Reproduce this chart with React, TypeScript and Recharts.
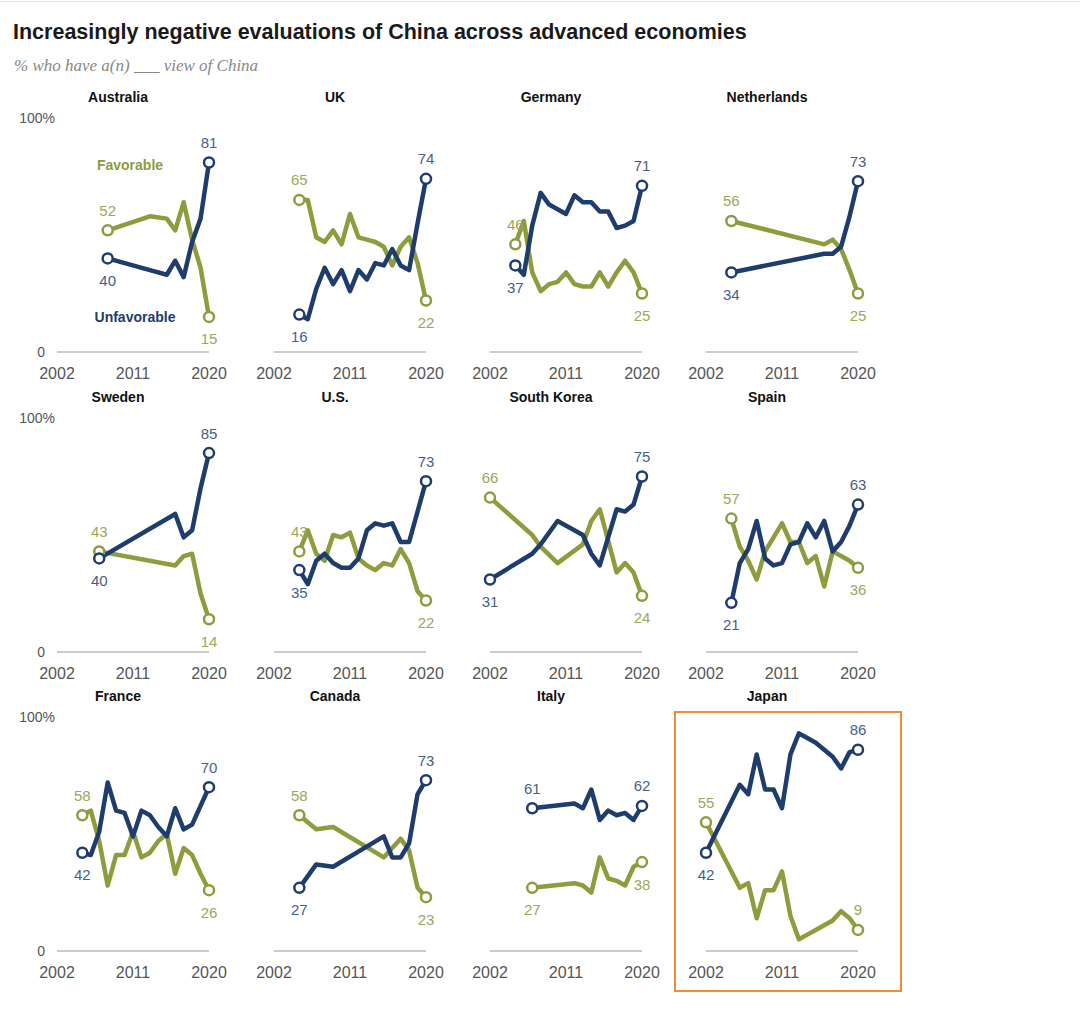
import { LineChart, Line, XAxis, YAxis } from 'recharts'

const FAV_COLOR = '#8d9c3d'
const UNFAV_COLOR = '#1e3d6c'
const FAV_LABEL = '#9aa85a'
const UNFAV_LABEL = '#46608b'

const yearTicks = [2002, 2011, 2020]
const pctTicks = [0, 100]

const australiaYears = [2008, 2013, 2015, 2016, 2017, 2018, 2019, 2020]
const australiaFav = [52, 58, 57, 52, 64, 48, 36, 15]
const australiaUnfav = [40, 35, 33, 39, 32, 47, 57, 81]

const ukYears = [2005, 2006, 2007, 2008, 2009, 2010, 2011, 2012, 2013, 2014, 2015, 2016, 2017, 2018, 2019, 2020]
const ukFav = [65, 65, 49, 47, 52, 46, 59, 49, 48, 47, 45, 37, 45, 49, 38, 22]
const ukUnfav = [16, 14, 27, 36, 29, 35, 26, 35, 31, 38, 37, 44, 37, 35, 55, 74]

const germanyYears = [2005, 2006, 2007, 2008, 2009, 2010, 2011, 2012, 2013, 2014, 2015, 2016, 2017, 2018, 2019, 2020]
const germanyFav = [46, 56, 34, 26, 29, 30, 34, 29, 28, 28, 34, 28, 34, 39, 34, 25]
const germanyUnfav = [37, 33, 54, 68, 63, 61, 59, 67, 64, 64, 60, 60, 53, 54, 56, 71]

const netherlandsYears = [2005, 2016, 2017, 2018, 2019, 2020]
const netherlandsFav = [56, 46, 48, 44, 35, 25]
const netherlandsUnfav = [34, 42, 42, 45, 58, 73]

const swedenYears = [2007, 2016, 2017, 2018, 2019, 2020]
const swedenFav = [43, 37, 41, 42, 25, 14]
const swedenUnfav = [40, 59, 49, 52, 70, 85]

const usYears = [2005, 2006, 2007, 2008, 2009, 2010, 2011, 2012, 2013, 2014, 2015, 2016, 2017, 2018, 2019, 2020]
const usFav = [43, 52, 42, 39, 50, 49, 51, 40, 37, 35, 38, 37, 44, 38, 26, 22]
const usUnfav = [35, 29, 39, 42, 38, 36, 36, 40, 52, 55, 54, 55, 47, 47, 60, 73]

const koreaYears = [2002, 2007, 2008, 2010, 2013, 2014, 2015, 2017, 2018, 2019, 2020]
const koreaFav = [66, 50, 45, 38, 46, 56, 61, 34, 38, 34, 24]
const koreaUnfav = [31, 42, 46, 56, 50, 42, 37, 61, 60, 63, 75]

const spainYears = [2005, 2006, 2007, 2008, 2009, 2010, 2011, 2012, 2013, 2014, 2015, 2016, 2017, 2018, 2019, 2020]
const spainFav = [57, 45, 39, 31, 43, 49, 55, 47, 47, 38, 41, 28, 43, 41, 39, 36]
const spainUnfav = [21, 38, 44, 56, 40, 37, 38, 46, 47, 55, 49, 56, 43, 47, 54, 63]

const franceYears = [2005, 2006, 2007, 2008, 2009, 2010, 2011, 2012, 2013, 2014, 2015, 2016, 2017, 2018, 2019, 2020]
const franceFav = [58, 60, 47, 28, 41, 41, 51, 40, 42, 47, 50, 33, 44, 41, 33, 26]
const franceUnfav = [42, 41, 51, 72, 60, 59, 49, 60, 58, 53, 49, 61, 52, 54, 62, 70]

const canadaYears = [2005, 2007, 2009, 2015, 2016, 2017, 2018, 2019, 2020]
const canadaFav = [58, 52, 53, 40, 44, 48, 43, 27, 23]
const canadaUnfav = [27, 37, 36, 49, 40, 40, 46, 67, 73]

const italyYears = [2007, 2012, 2013, 2014, 2015, 2016, 2017, 2018, 2019, 2020]
const italyFav = [27, 29, 28, 25, 40, 31, 30, 28, 36, 38]
const italyUnfav = [61, 63, 61, 69, 56, 60, 58, 59, 56, 62]

const japanYears = [2002, 2006, 2007, 2008, 2009, 2010, 2011, 2012, 2013, 2014, 2015, 2016, 2017, 2018, 2019, 2020]
const japanFav = [55, 27, 29, 14, 26, 26, 34, 15, 5, 7, 9, 11, 13, 17, 14, 9]
const japanUnfav = [42, 71, 67, 84, 69, 69, 61, 84, 93, 91, 89, 86, 83, 78, 85, 86]

const panels = [
  { name: 'Australia', years: australiaYears, fav: australiaFav, unfav: australiaUnfav },
  { name: 'UK', years: ukYears, fav: ukFav, unfav: ukUnfav },
  { name: 'Germany', years: germanyYears, fav: germanyFav, unfav: germanyUnfav },
  { name: 'Netherlands', years: netherlandsYears, fav: netherlandsFav, unfav: netherlandsUnfav },
  { name: 'Sweden', years: swedenYears, fav: swedenFav, unfav: swedenUnfav },
  { name: 'U.S.', years: usYears, fav: usFav, unfav: usUnfav },
  { name: 'South Korea', years: koreaYears, fav: koreaFav, unfav: koreaUnfav },
  { name: 'Spain', years: spainYears, fav: spainFav, unfav: spainUnfav },
  { name: 'France', years: franceYears, fav: franceFav, unfav: franceUnfav },
  { name: 'Canada', years: canadaYears, fav: canadaFav, unfav: canadaUnfav },
  { name: 'Italy', years: italyYears, fav: italyFav, unfav: italyUnfav },
  { name: 'Japan', years: japanYears, fav: japanFav, unfav: japanUnfav },
]

// layout of the small multiples (page pixels)
const colStarts = [57, 274, 490, 706]
const rowBaselines = [352, 652, 951]
const PLOT_W = 152
const PLOT_H = 234
const TOP = 40
const AXIS_W = 50
const RIGHT = 20
const X_AXIS_H = 36

const FONT = '"Liberation Sans", Arial, sans-serif'

function makeDot(count: number, color: string) {
  return (props: any) => {
    const { cx, cy, index } = props
    if (index !== 0 && index !== count - 1) return <g key={`d-${index}`} />
    return <circle key={`d-${index}`} cx={cx} cy={cy} r={5} fill="#fff" stroke={color} strokeWidth={2.5} />
  }
}

function makeLabel(values: number[], other: number[], color: string) {
  const last = values.length - 1
  return (props: any) => {
    const { x, y, index } = props
    if (index !== 0 && index !== last) return <g key={`l-${index}`} />
    const v = values[index]
    const above = v >= other[index] || v < 10
    return (
      <text
        key={`l-${index}`}
        x={x}
        y={above ? y - 20 : y + 22}
        textAnchor="middle"
        dominantBaseline="central"
        fill={color}
        fontSize={15}
      >
        {v}
      </text>
    )
  }
}

function YTick(props: any) {
  const { x, y, payload } = props
  const isZero = payload.value === 0
  return (
    <text x={isZero ? x - 4 : x + 6} y={y} textAnchor="end" dominantBaseline="central" fill="#555" fontSize={14}>
      {isZero ? '0' : '100%'}
    </text>
  )
}

function Panel({ idx }: { idx: number }) {
  const p = panels[idx]
  const col = idx % 4
  const row = Math.floor(idx / 4)
  const data = p.years.map((year, i) => ({ year, fav: p.fav[i], unfav: p.unfav[i] }))
  const left = colStarts[col] - AXIS_W
  const top = rowBaselines[row] - PLOT_H - TOP

  return (
    <div style={{ position: 'absolute', left, top }}>
      <LineChart
        width={AXIS_W + PLOT_W + RIGHT}
        height={TOP + PLOT_H + X_AXIS_H}
        data={data}
        margin={{ top: TOP, right: RIGHT, bottom: 0, left: 0 }}
      >
        <XAxis
          dataKey="year"
          type="number"
          domain={[2002, 2020]}
          ticks={yearTicks}
          interval={0}
          tickLine={false}
          tickSize={0}
          tickMargin={16}
          height={X_AXIS_H}
          axisLine={{ stroke: '#999', strokeWidth: 1.2 }}
          tick={{ fontSize: 16, fill: '#555' }}
        />
        <YAxis
          type="number"
          domain={[0, 100]}
          ticks={pctTicks}
          width={AXIS_W}
          axisLine={false}
          tickLine={false}
          tickMargin={2}
          tick={col === 0 ? <YTick /> : false}
        />
        <Line
          dataKey="fav"
          type="linear"
          stroke={FAV_COLOR}
          strokeWidth={4.5}
          strokeLinejoin="round"
          dot={makeDot(data.length, FAV_COLOR)}
          activeDot={false}
          label={makeLabel(p.fav, p.unfav, FAV_LABEL)}
          isAnimationActive={false}
        />
        <Line
          dataKey="unfav"
          type="linear"
          stroke={UNFAV_COLOR}
          strokeWidth={4.5}
          strokeLinejoin="round"
          dot={makeDot(data.length, UNFAV_COLOR)}
          activeDot={false}
          label={makeLabel(p.unfav, p.fav, UNFAV_LABEL)}
          isAnimationActive={false}
        />
      </LineChart>
      <div
        style={{
          position: 'absolute',
          left: AXIS_W + PLOT_W / 2 - 15,
          top: TOP + PLOT_H - 255,
          transform: 'translate(-50%, -50%)',
          fontWeight: 'bold',
          fontSize: 14,
          color: '#111',
          whiteSpace: 'nowrap',
        }}
      >
        {p.name}
      </div>
    </div>
  )
}

export default function App() {
  return (
    <div
      style={{
        position: 'absolute',
        left: 0,
        top: 0,
        width: 1080,
        height: 1012,
        background: '#fff',
        fontFamily: FONT,
        overflow: 'hidden',
      }}
    >
      <div style={{ position: 'absolute', left: 0, top: 1, width: 1080, borderTop: '1px solid #e4e4e4' }} />
      <div style={{ position: 'absolute', left: 13, top: 20, fontSize: 21.5, fontWeight: 'bold', color: '#1a1a1a', whiteSpace: 'nowrap' }}>
        Increasingly negative evaluations of China across advanced economies
      </div>
      <div
        style={{
          position: 'absolute',
          left: 14,
          top: 56,
          fontSize: 17,
          fontStyle: 'italic',
          fontFamily: '"Liberation Serif", Georgia, serif',
          color: '#888',
          whiteSpace: 'nowrap',
        }}
      >
        % who have a(n) ___ view of China
      </div>
      {panels.map((_, i) => (
        <Panel key={i} idx={i} />
      ))}
      <div style={{ position: 'absolute', left: 130, top: 165, transform: 'translate(-50%, -50%)', fontWeight: 'bold', fontSize: 14, color: FAV_COLOR }}>
        Favorable
      </div>
      <div style={{ position: 'absolute', left: 135, top: 317, transform: 'translate(-50%, -50%)', fontWeight: 'bold', fontSize: 14, color: UNFAV_COLOR }}>
        Unfavorable
      </div>
      <div style={{ position: 'absolute', left: 674, top: 711, width: 224, height: 277, border: '2px solid #f28a38' }} />
    </div>
  )
}
